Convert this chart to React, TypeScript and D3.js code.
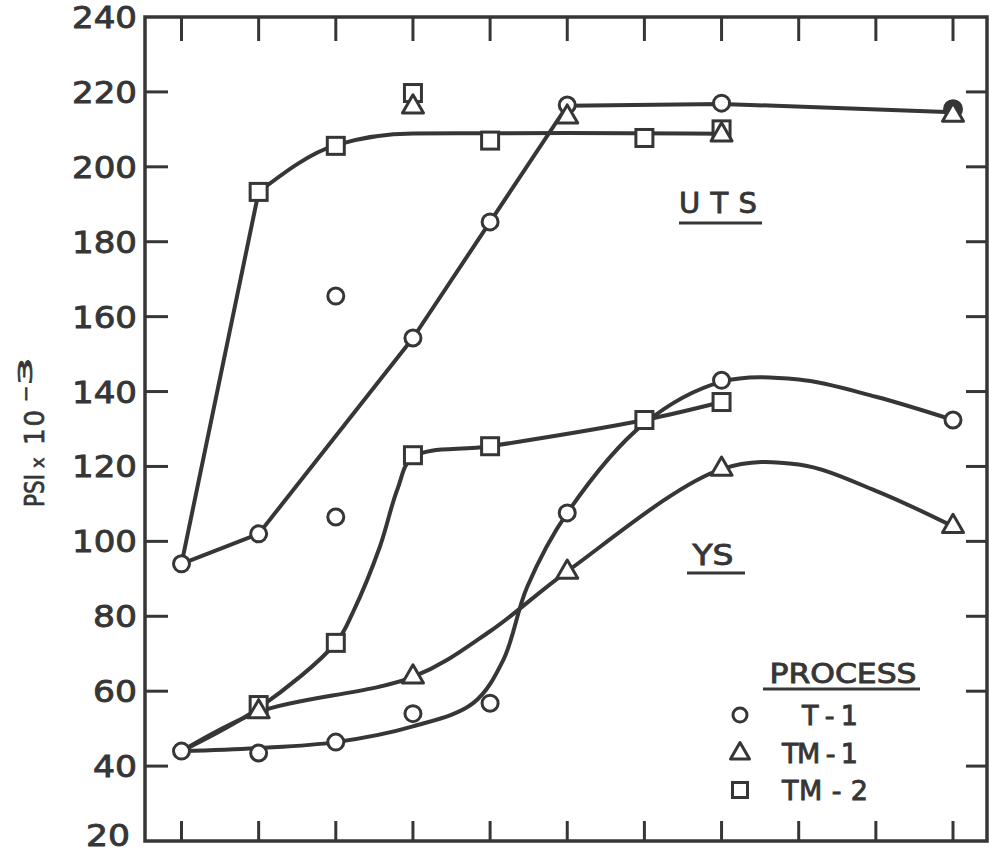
import React from 'react';
import * as d3 from 'd3';

const W = 989;
const H = 852;
const INK = '#363636';
const FONT = '"DejaVu Sans", sans-serif';

// x positions: 11 unlabelled process steps (index 0..10)
const xSteps = d3.range(11);
const yTicks = [20, 40, 60, 80, 100, 120, 140, 160, 180, 200, 220, 240];

// measured points (index, PSI x 10^-3)
const t1Points: [number, number][] = [
  [0, 94], [1, 102], [2, 165.5], [2, 106.5], [3, 154.3], [4, 185.3], [5, 216.5], [7, 217],
  [0, 44], [1, 43.5], [2, 46.4], [3, 54], [4, 56.8], [5, 107.6], [7, 143], [10, 132.4],
];
const t1FilledPoints: [number, number][] = [[10, 215.4]];
const tm1Points: [number, number][] = [
  [3, 216], [5, 213.3], [7, 208.5], [10, 213.8],
  [1, 54.5], [3, 63.8], [5, 91.8], [7, 119.3], [10, 104],
];
const tm2Points: [number, number][] = [
  [1, 193.3], [2, 205.6], [3, 219.7], [4, 207], [6, 207.7], [7, 210],
  [1, 56.3], [2, 72.9], [3, 123], [4, 125.4], [6, 132.4], [7, 137.2],
];

// hand-drawn fitted curves
const t1UtsLine: [number, number][] = [[0, 94], [1, 102], [3, 154.3], [4, 185.3], [5, 216.3], [7, 216.8], [10, 214.6]];
const tm2UtsRise: [number, number][] = [[0, 94], [1, 193.3]];
const tm2UtsCurve: [number, number][] = [[1, 193.3], [2, 205.8], [3, 208.9], [5, 209], [7, 208.8]];
const t1YsCurve: [number, number][] = [
  [0, 44], [1, 44.8], [2, 46.4], [3, 50.6], [3.78, 56.8], [4.17, 68.3], [4.48, 87.8], [5, 107.6],
  [6, 131.5], [7, 142.6], [8, 143.2], [9, 138.6], [10, 132.4],
];
const tm1YsCurve: [number, number][] = [
  [0, 44], [1, 54.5], [3, 63.8], [4, 76], [5, 92], [7, 119.3], [8, 120.5], [9, 113.5], [10, 104],
];
const tm2YsCurve: [number, number][] = [
  [0, 44], [1, 55.5], [2, 72.9], [2.22, 81], [2.57, 98.5], [2.8, 114], [3, 122.5], [4, 125.4], [6, 132.4], [7, 137.2],
];

const legendItems = [
  { label: 'T - 1', shape: 'circle' },
  { label: 'TM - 1', shape: 'triangle' },
  { label: 'TM - 2', shape: 'square' },
];

const frame = { left: 145, right: 987, top: 17, bottom: 841 };

export default function App() {
  const x = d3.scaleLinear().domain([0, 10]).range([181.5, 953]);
  const y = d3.scaleLinear().domain([20, 240]).range([frame.bottom, frame.top]);

  const linear = d3.line<[number, number]>().x(d => x(d[0])).y(d => y(d[1])).curve(d3.curveLinear);
  const mono = d3.line<[number, number]>().x(d => x(d[0])).y(d => y(d[1])).curve(d3.curveMonotoneX);
  const smooth = d3.line<[number, number]>().x(d => x(d[0])).y(d => y(d[1])).curve(d3.curveCatmullRom.alpha(0.5));

  const tri = (cx: number, cy: number, s: number) => {
    const h = s * 0.866;
    return `M${cx},${cy - (2 * h) / 3} L${cx - s / 2},${cy + h / 3} L${cx + s / 2},${cy + h / 3} Z`;
  };

  const markerStyle = { fill: '#fff', stroke: INK, strokeWidth: 3 };
  const txt = { fontFamily: FONT, fill: INK, stroke: INK, strokeWidth: 0.9 };

  const labelLen = (t: string) => (t.length === 3 ? 65 : 44);

  return (
    <svg width={W} height={H} style={{ position: 'absolute', left: 0, top: 0, background: '#fff' }}>
      <rect x={0} y={0} width={W} height={H} fill="#fff" />
      {/* frame */}
      <rect x={frame.left} y={frame.top} width={frame.right - frame.left} height={frame.bottom - frame.top}
        fill="none" stroke={INK} strokeWidth={3.5} />
      {/* x ticks top & bottom */}
      {xSteps.map(i => (
        <g key={'xt' + i}>
          <line x1={x(i)} x2={x(i)} y1={frame.top} y2={frame.top + 24} stroke={INK} strokeWidth={3} />
          <line x1={x(i)} x2={x(i)} y1={frame.bottom} y2={frame.bottom - 20} stroke={INK} strokeWidth={3} />
        </g>
      ))}
      {/* y ticks left & right */}
      {yTicks.filter(v => v > 20 && v < 240).map(v => (
        <g key={'yt' + v}>
          <line x1={frame.left} x2={frame.left + 23} y1={y(v)} y2={y(v)} stroke={INK} strokeWidth={3} />
          <line x1={frame.right} x2={frame.right - 21} y1={y(v)} y2={y(v)} stroke={INK} strokeWidth={3} />
        </g>
      ))}
      {/* y tick labels */}
      {yTicks.map(v => (
        <text key={'yl' + v} x={v === 20 ? 130 : 137} y={v === 20 ? y(v) + 5 : y(v) + 11} textAnchor="end" fontSize={30}
          {...txt} textLength={labelLen(String(v))} lengthAdjust="spacingAndGlyphs">{v}</text>
      ))}
      {/* y axis title */}
      <g transform="translate(44,0) rotate(-90)" {...txt} strokeWidth={0.7}>
        <text x={-507} y={0} fontSize={26} textLength={33} lengthAdjust="spacingAndGlyphs">PSI</text>
        <text x={-468} y={0} fontSize={18}>x</text>
        <text x={-445} y={0} fontSize={26} textLength={35} lengthAdjust="spacing">10</text>
        <text x={-402} y={-12} fontSize={20} textLength={45} lengthAdjust="spacingAndGlyphs">-3</text>
      </g>

      {/* curves */}
      <g fill="none" stroke={INK} strokeWidth={4} strokeLinejoin="round" strokeLinecap="round">
        <path d={linear(t1UtsLine) || ''} />
        <path d={linear(tm2UtsRise) || ''} />
        <path d={mono(tm2UtsCurve) || ''} />
        <path d={smooth(t1YsCurve) || ''} />
        <path d={smooth(tm1YsCurve) || ''} />
        <path d={smooth(tm2YsCurve) || ''} />
      </g>

      {/* markers */}
      {t1FilledPoints.map((p, i) => (
        <circle key={'tf' + i} cx={x(p[0])} cy={y(p[1])} r={9} fill={INK} stroke={INK} strokeWidth={2} />
      ))}
      {t1Points.map((p, i) => (
        <circle key={'c' + i} cx={x(p[0])} cy={y(p[1])} r={8} {...markerStyle} />
      ))}
      {tm2Points.map((p, i) => (
        <rect key={'s' + i} x={x(p[0]) - 8.5} y={y(p[1]) - 8.5} width={17} height={17} {...markerStyle} />
      ))}
      {tm1Points.map((p, i) => (
        <path key={'t' + i} d={tri(x(p[0]), y(p[1]), 21)} {...markerStyle} strokeLinejoin="round" />
      ))}

      {/* annotations */}
      <text x={718} y={213} textAnchor="middle" fontSize={29} {...txt}
        textLength={78} lengthAdjust="spacing">UTS</text>
      <line x1={679} x2={762} y1={223} y2={223} stroke={INK} strokeWidth={3} />
      <text x={713} y={565} textAnchor="middle" fontSize={29} {...txt}
        textLength={41} lengthAdjust="spacingAndGlyphs">YS</text>
      <line x1={687} x2={745} y1={573} y2={573} stroke={INK} strokeWidth={3} />

      {/* legend */}
      <text x={843} y={683} textAnchor="middle" fontSize={27} {...txt}
        textLength={147} lengthAdjust="spacingAndGlyphs">PROCESS</text>
      <line x1={763} x2={920} y1={689} y2={689} stroke={INK} strokeWidth={3} />
      {legendItems.map((it, i) => {
        const cy = 715 + i * 37.5;
        const cx = 740;
        const ms = { fill: 'none', stroke: INK, strokeWidth: 3 };
        return (
          <g key={it.label}>
            {it.shape === 'circle' && <circle cx={cx} cy={cy} r={7} {...ms} />}
            {it.shape === 'triangle' && <path d={tri(cx, cy + 1, 19)} {...ms} strokeLinejoin="round" />}
            {it.shape === 'square' && <rect x={cx - 7.5} y={cy - 7.5} width={15} height={15} {...ms} />}
            <text x={i === 0 ? 802 : 782} y={cy + 10} fontSize={27} {...txt}
              textLength={i === 0 ? 56 : i === 1 ? 76 : 86} lengthAdjust="spacing">{it.label}</text>
          </g>
        );
      })}
    </svg>
  );
}
